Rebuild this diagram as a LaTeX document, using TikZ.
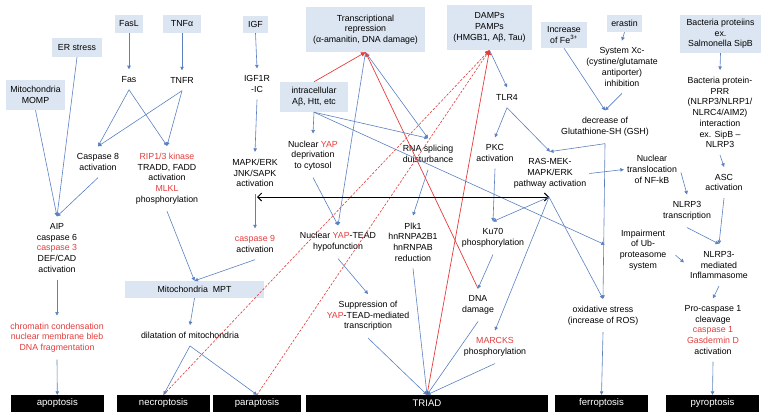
\documentclass[tikz,border=0pt]{standalone}
\usepackage{fontspec}
\setmainfont{Liberation Sans}
\usetikzlibrary{arrows.meta}

\definecolor{boxblue}{RGB}{220,230,242}
\definecolor{linkblue}{RGB}{90,128,192}
\definecolor{linkred}{RGB}{228,60,60}
\newcommand{\redtxt}[1]{\textcolor{linkred}{#1}}

\begin{document}
\begin{tikzpicture}[x=1pt, y=-1pt]
    \tikzset{
        every node/.style = {align=center, inner xsep=3pt, inner ysep=7pt, font=\fontsize{8.8}{10.7}\selectfont},
        lbox/.style = {fill=boxblue, inner sep=1pt},
        fate/.style = {fill=black, text=white, inner sep=0pt, minimum width=93, minimum height=17, font=\fontsize{9.6}{11}\selectfont},
        arr/.style = {draw=linkblue, line width=0.6pt, -{Triangle[length=3.5pt, width=3.5pt]}},
        redarr/.style = {draw=linkred, line width=0.7pt, -{Triangle[length=4.5pt, width=4.5pt]}},
        reddash/.style = {redarr, line width=0.6pt, dash pattern=on 2.5pt off 1.5pt},
        dblarr/.style = {draw=black, line width=1pt, {Straight Barb[length=4pt, width=8pt]}-{Straight Barb[length=4pt, width=8pt]}},
    }
    \useasboundingbox (0, 0) rectangle (767, 418);

    {
        % light blue boxes on top
        \node[lbox, minimum width=50, minimum height=19] (er) at (77, 47.5) {ER stress};
        \node[lbox, minimum width=59, minimum height=30] (momp) at (35.5, 95) {Mitochondria\\MOMP};
        \node[lbox, minimum width=28, minimum height=18] (fasl) at (129, 24) {FasL};
        \node[lbox, minimum width=38, minimum height=18] (tnfa) at (182, 24) {TNFα};
        \node[lbox, minimum width=25, minimum height=17] (igf) at (255.5, 24.5) {IGF};
        \node[lbox, minimum width=119, minimum height=45] (trans) at (365.5, 29.5) {Transcriptional\\repression\\(α-amanitin, DNA damage)};
        \node[lbox, minimum width=68, minimum height=30] (intra) at (314, 97) {intracellular\\Aβ, Htt, etc};
        \node[lbox, minimum width=85, minimum height=45] (damps) at (489.5, 27.5) {DAMPs\\PAMPs\\(HMGB1, Aβ, Tau)};
        \node[lbox, minimum width=46, minimum height=26] (fe) at (564, 35) {Increase\\of Fe\textsuperscript{3+}};
        \node[lbox, minimum width=35, minimum height=17] (erastin) at (624.5, 23.5) {erastin};
        \node[lbox, minimum width=81, minimum height=38] (bact) at (720.5, 34) {Bacteria proteiins\\ex.\\Salmonella SipB};
        \node[lbox, minimum width=139, minimum height=17] (mpt) at (194.5, 289.5) {Mitochondria\ \ MPT};

        % apoptosis / necroptosis / paraptosis side
        \node (fas) at (129, 79.5) {Fas};
        \node (tnfr) at (182, 80.5) {TNFR};
        \node (casp8) at (98, 162) {Caspase 8\\activation};
        \node (rip) at (167, 178.5) {\redtxt{RIP1/3 kinase}\\TRADD, FADD\\activation\\\redtxt{MLKL}\\phosphorylation};
        \node (aip) at (57, 248) {AIP\\caspase 6\\\redtxt{caspase 3}\\DEF/CAD\\activation};
        \node[text=linkred] (chrom) at (57, 337.5) {chromatin condensation\\nuclear membrane bleb\\DNA fragmentation};
        \node (dil) at (190, 335.5) {dilatation of mitochondria};
        \node (igf1r) at (257, 84) {IGF1R\\-IC};
        \node (mapk) at (255, 173) {MAPK/ERK\\JNK/SAPK\\activation};
        \node (casp9) at (255, 244) {\redtxt{caspase 9}\\activation};

        % TRIAD part
        \node (yapdep) at (313, 155.5) {Nuclear \redtxt{YAP}\\deprivation\\to cytosol};
        \node (yaptead) at (338, 242) {Nuclear \redtxt{YAP}-TEAD\\hypofunction};
        \node (supp) at (368, 316) {Suppression of\\\redtxt{YAP}-TEAD-mediated\\transcription};
        \node (rna) at (428, 154) {RNA splicing\\duisturbance};
        \node (plk) at (413, 242) {Plk1\\hnRNPA2B1\\hnRNPAB\\reduction};
        \node (tlr4) at (507, 97.5) {TLR4};
        \node (pkc) at (495, 153) {PKC\\activation};
        \node (ras) at (550, 173.5) {RAS-MEK-\\MAPK/ERK\\pathway activation};
        \node (ku70) at (493, 238) {Ku70\\phosphorylation};
        \node (dna) at (478, 305) {DNA\\damage};
        \node (marcks) at (495, 347) {\redtxt{MARCKS}\\phosphorylation};

        % ferroptosis / pyroptosis side
        \node (sysxc) at (622, 67) {System Xc-\\(cystine/glutamate\\antiporter)\\inhibition};
        \node (gsh) at (605, 127) {decrease of\\Glutathione-SH (GSH)};
        \node (nfkb) at (652, 169.5) {Nuclear\\translocation\\of NF-kB};
        \node (prr) at (720, 112.5) {Bacteria protein-\\PRR\\(NLRP3/NLRP1/\\NLRC4/AIM2)\\interaction\\ex. SipB –\\NLRP3};
        \node (asc) at (724, 182.5) {ASC\\activation};
        \node (nlrptr) at (687, 211) {NLRP3\\transcription};
        \node (impair) at (643, 250) {Impairment\\of Ub-\\proteasome\\system};
        \node (nlrpmed) at (719, 265) {NLRP3-\\mediated\\Inflammasome};
        \node (ox) at (603, 315.5) {oxidative stress\\(increase of ROS)};
        \node (procasp) at (713, 330) {Pro-caspase 1\\cleavage\\\redtxt{caspase 1}\\\redtxt{Gasdermin D}\\activation};

        % cell death at the bottom
        \node[fate] (apo) at (57.3, 403.5) {apoptosis};
        \node[fate] (necro) at (163.5, 403.5) {necroptosis};
        \node[fate, minimum width=88] (para) at (257, 403.5) {paraptosis};
        \node[fate, minimum width=242] (triad) at (427, 403.5) {TRIAD};
        \node[fate] (ferro) at (601.5, 403.5) {ferroptosis};
        \node[fate] (pyro) at (712.5, 403.5) {pyroptosis};

        \coordinate (mapkhub) at (257, 197);
        \coordinate (rashub) at (549, 197);
    }

    % apoptosis
    \draw (momp.south) edge[arr] (aip.north);
    \draw (er.south) edge[arr] (aip.north);
    \draw (casp8.south) edge[arr] (aip.north);
    \draw (aip.south) edge[arr] (chrom.north);
    \draw (chrom.south) edge[arr] (apo.north);

    % death receptors
    \draw (fasl.south) edge[arr] (fas.north);
    \draw (tnfa.south) edge[arr] (tnfr.north);
    \draw (fas.south) edge[arr] (casp8.north);
    \draw (fas.south) edge[arr] (rip.north);
    \draw (tnfr.south) edge[arr] (casp8.north);
    \draw (tnfr.south) edge[arr] (rip.north);
    \draw (rip.south) edge[arr] (mpt.north);

    % IGF and mitochondria
    \draw (igf.south) edge[arr] (igf1r.north);
    \draw (igf1r.south) edge[arr] (mapk.north);
    \draw (mapk.south) edge[arr] (casp9.north);
    \draw (casp9.south) edge[arr] (mpt.north);
    \draw (mpt.south) edge[arr] (dil.north);
    \draw (dil.south) edge[arr] (necro.north);
    \draw (dil.south) edge[arr] (para.north);

    % TRIAD
    \draw (intra.north) edge[redarr] (trans.south);
    \draw (dna.north) edge[redarr] (trans.south);
    \draw (intra.south) edge[arr] (yapdep.north);
    \draw (intra.south) edge[arr] (rna.north);
    \draw (intra.south) edge[arr, shorten >=13pt] (impair.west);
    \draw (trans.south) edge[arr] (yaptead.north);
    \draw (trans.south) edge[arr] (rna.north);
    \draw (yapdep.south) edge[arr] (yaptead.north);
    \draw (yaptead.south) edge[arr] (supp.north);
    \draw (rna.south) edge[arr] (plk.north);
    \draw (supp.south) edge[arr] (triad.north);
    \draw (plk.south) edge[arr] (triad.north);
    \draw (dna.south) edge[arr] (triad.north);
    \draw (marcks.south) edge[arr] (triad.north);

    % DAMPs
    \draw (triad.north) edge[redarr] (damps.south);
    \draw (necro.north) edge[reddash] (damps.south);
    \draw (para.north) edge[reddash] (damps.south);
    \draw (damps.south) edge[arr] (tlr4.north);
    \draw (tlr4.south) edge[arr] (pkc.north);
    \draw (tlr4.south) edge[arr] (ras.north);
    \draw (pkc.south) edge[arr] (ku70.north);
    \draw (ku70.south) edge[arr] (dna.north);

    % crosstalk between MAPK/ERK pathways
    \draw (mapkhub) edge[dblarr] (rashub);
    \draw (rashub) edge[arr] (ku70.north);
    \draw (rashub) edge[arr] (marcks.north);
    \draw (rashub) edge[arr] (ox.north);
    \draw (ras.east) edge[arr] (nfkb.west);

    % ferroptosis
    \draw (erastin.south) edge[arr] (sysxc.north);
    \draw (sysxc.south) edge[arr] (gsh.north);
    \draw (fe.south) edge[arr] (gsh.north);
    \draw (gsh.south) edge[arr] (ras.north);
    \draw (gsh.south) edge[arr] (ox.north);
    \draw (ox.south) edge[arr] (ferro.north);

    % pyroptosis
    \draw (bact.south) edge[arr] (prr.north);
    \draw (prr.south) edge[arr] (asc.north);
    \draw (asc.south) edge[arr] (nlrpmed.north);
    \draw (nfkb.east) edge[arr, shorten <=3pt] (nlrptr.north);
    \draw (nlrptr.south) edge[arr] (nlrpmed.north);
    \draw (impair.east) edge[arr, shorten <=8pt, shorten >=4pt] (nlrpmed.west);
    \draw (nlrpmed.south) edge[arr] (procasp.north);
    \draw (procasp.south) edge[arr] (pyro.north);

\end{tikzpicture}
\end{document}
